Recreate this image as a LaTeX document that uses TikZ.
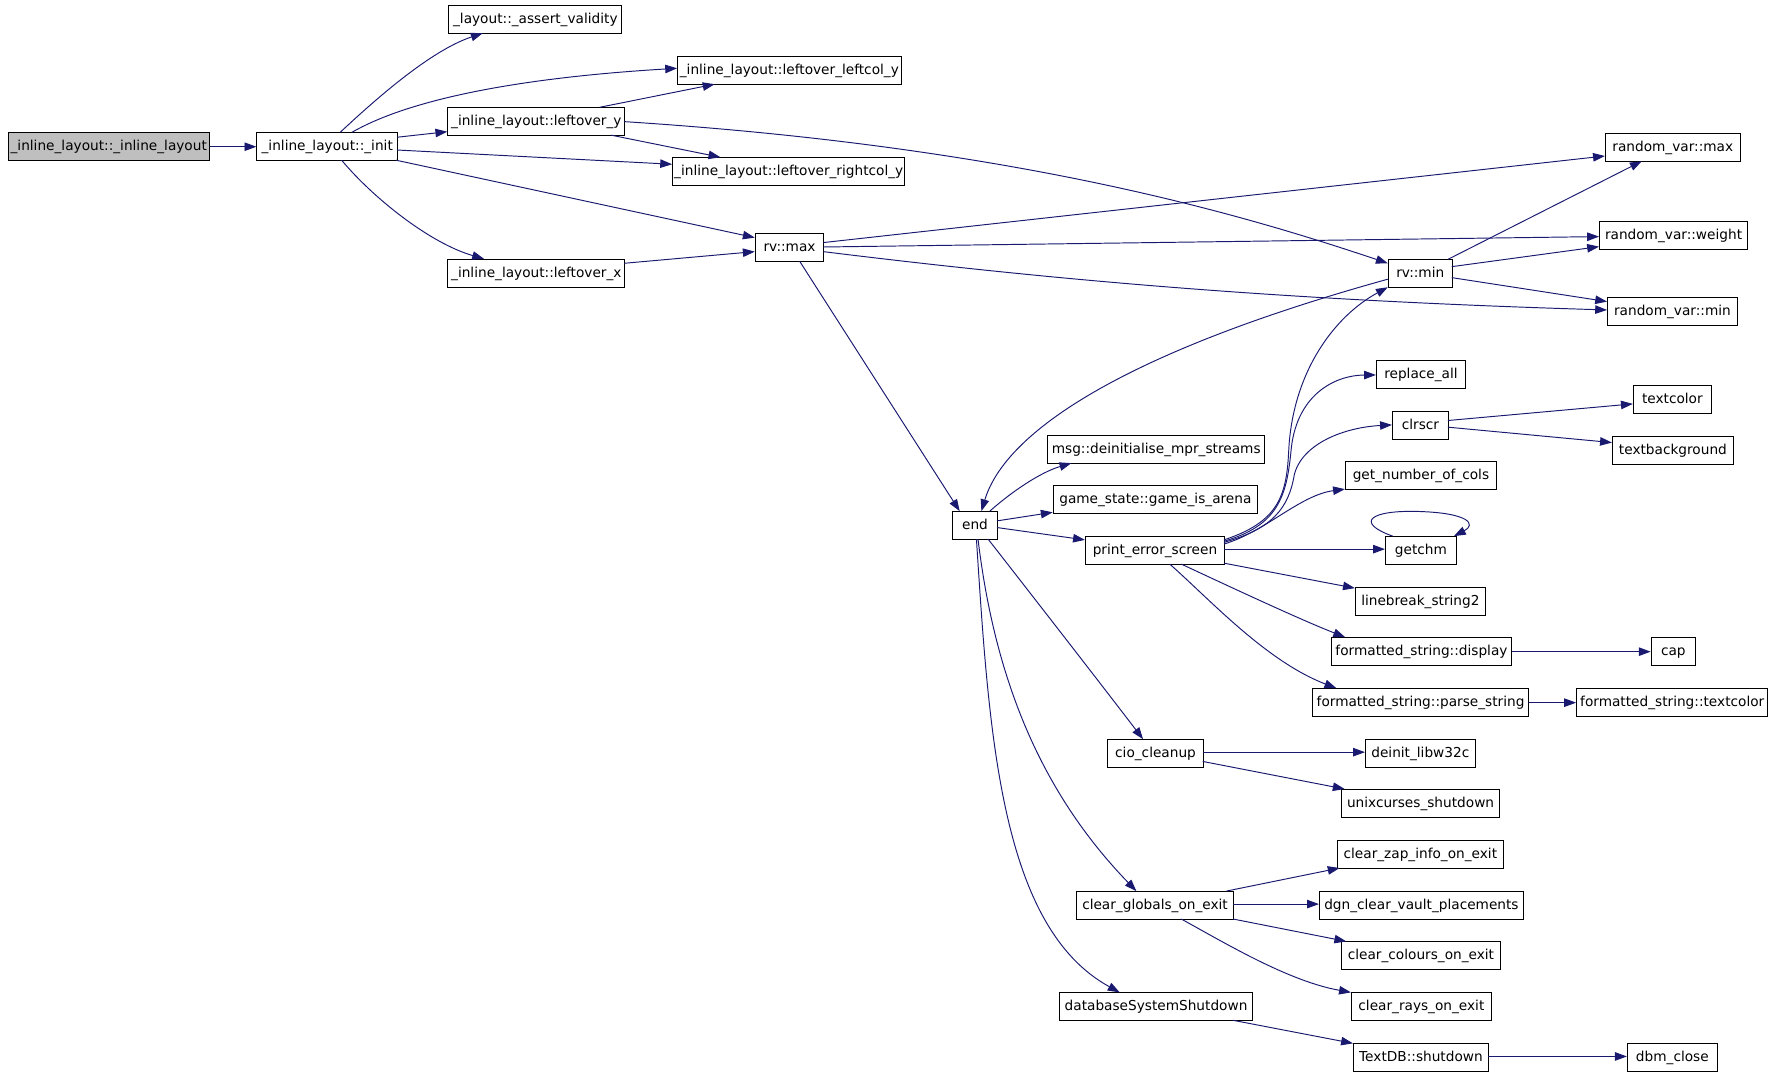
\documentclass[tikz,border=0pt]{standalone}
\usepackage{fontspec}
\setmainfont{DejaVu Sans}
\usetikzlibrary{arrows.meta}
\definecolor{edgeblue}{RGB}{25,25,112}
\definecolor{rootgray}{RGB}{191,191,191}
\newcommand\lbl[1]{\makebox[0pt]{#1}}
\begin{document}
\begin{tikzpicture}[x=1pt,y=-1pt,
  fn/.style={draw=black,line width=0.9pt,anchor=north west,inner sep=0pt,
    minimum height=24.7pt,text height=9.7pt,text depth=3pt,
    font=\fontsize{12.1}{14}\selectfont},
  call/.style={draw=edgeblue,line width=0.85pt,-{Triangle[length=10.5pt,width=7.5pt]},fill=none}]
\useasboundingbox (0,0) rectangle (1568.5,951);
% nodes
\node[fn,fill=rootgray,minimum width=177.5pt] (A) at (7,117) {\lbl{\_inline\_layout::\_inline\_layout}};
\node[fn,minimum width=124.5pt] (init) at (226.8,117) {\lbl{\_inline\_layout::\_init}};
\node[fn,minimum width=152.9pt] (assert) at (396.7,4.7) {\lbl{\_layout::\_assert\_validity}};
\node[fn,minimum width=156.6pt] (lefty) at (395.7,94.9) {\lbl{\_inline\_layout::leftover\_y}};
\node[fn,minimum width=156.6pt] (leftx) at (395.7,229) {\lbl{\_inline\_layout::leftover\_x}};
\node[fn,minimum width=197.7pt] (leftcol) at (599,49.8) {\lbl{\_inline\_layout::leftover\_leftcol\_y}};
\node[fn,minimum width=205.4pt] (rightcol) at (594.6,139.1) {\lbl{\_inline\_layout::leftover\_rightcol\_y}};
\node[fn,minimum width=60.6pt] (rvmax) at (667.7,206.4) {\lbl{rv::max}};
\node[fn,minimum width=119.2pt] (rmax) at (1419.8,117.9) {\lbl{random\_var::max}};
\node[fn,minimum width=130.9pt] (rweight) at (1414.6,195.7) {\lbl{random\_var::weight}};
\node[fn,minimum width=114.8pt] (rmin) at (1421.7,263) {\lbl{random\_var::min}};
\node[fn,minimum width=56.6pt] (rvmin) at (1227.7,229.4) {\lbl{rv::min}};
\node[fn,minimum width=39.8pt] (end) at (842.2,452.2) {\lbl{end}};
\node[fn,minimum width=192.2pt] (msg) at (926.3,385) {\lbl{msg::deinitialise\_mpr\_streams}};
\node[fn,minimum width=180.7pt] (arena) at (931.3,429.2) {\lbl{game\_state::game\_is\_arena}};
\node[fn,minimum width=123pt] (pes) at (959.8,474.3) {\lbl{print\_error\_screen}};
\node[fn,minimum width=78.8pt] (replace) at (1217.2,318.7) {\lbl{replace\_all}};
\node[fn,minimum width=49.5pt] (clrscr) at (1231.4,363.8) {\lbl{clrscr}};
\node[fn,minimum width=69pt] (textcolor) at (1444.5,340.8) {\lbl{textcolor}};
\node[fn,minimum width=107pt] (textbg) at (1426,385.9) {\lbl{textbackground}};
\node[fn,minimum width=133.6pt] (getcols) at (1189.8,408) {\lbl{get\_number\_of\_cols}};
\node[fn,minimum width=62.8pt] (getchm) at (1225.2,474.3) {\lbl{getchm}};
\node[fn,minimum width=115pt] (linebreak) at (1198.6,519.4) {\lbl{linebreak\_string2}};
\node[fn,minimum width=159.5pt] (display) at (1177.3,563.7) {\lbl{formatted\_string::display}};
\node[fn,minimum width=39.2pt] (cap) at (1460.3,563.7) {\lbl{cap}};
\node[fn,minimum width=191.3pt] (parse) at (1160.6,608.8) {\lbl{formatted\_string::parse\_string}};
\node[fn,minimum width=169.2pt] (fstc) at (1394.3,608.8) {\lbl{formatted\_string::textcolor}};
\node[fn,minimum width=84.4pt] (cio) at (979.6,653.9) {\lbl{cio\_cleanup}};
\node[fn,minimum width=97.1pt] (deinit) at (1207.5,653.9) {\lbl{deinit\_libw32c}};
\node[fn,minimum width=139.9pt] (unix) at (1186.3,698) {\lbl{unixcurses\_shutdown}};
\node[fn,minimum width=138.9pt] (cglob) at (951.9,788.3) {\lbl{clear\_globals\_on\_exit}};
\node[fn,minimum width=146.8pt] (zap) at (1182.7,743.2) {\lbl{clear\_zap\_info\_on\_exit}};
\node[fn,minimum width=180.4pt] (dgn) at (1166.8,788.3) {\lbl{dgn\_clear\_vault\_placements}};
\node[fn,minimum width=140.6pt] (colours) at (1186.3,832.8) {\lbl{clear\_colours\_on\_exit}};
\node[fn,minimum width=123.8pt] (rays) at (1195.1,877.9) {\lbl{clear\_rays\_on\_exit}};
\node[fn,minimum width=170.7pt] (dbss) at (936.9,877.9) {\lbl{databaseSystemShutdown}};
\node[fn,minimum width=119.4pt] (textdb) at (1196.9,923) {\lbl{TextDB::shutdown}};
\node[fn,minimum width=79.6pt] (dbm) at (1439.2,923) {\lbl{dbm\_close}};
% edges
\draw[call] (A.east) -- (init.west);
\draw[call] ([shift={(74.2,0)}]init.north west) .. controls (330,90) and (380,45) .. ([shift={(30.3,24.7)}]assert.north west);
\draw[call] ([shift={(84.6,0)}]init.north west) .. controls (355,92) and (440,70) .. ([shift={(0,10.6)}]leftcol.north west);
\draw[call] ([shift={(124.5,4.4)}]init.north west) -- ([shift={(0,21.6)}]lefty.north west);
\draw[call] ([shift={(124.5,15.7)}]init.north west) -- ([shift={(0,6.2)}]rightcol.north west);
\draw[call] ([shift={(123.5,24.7)}]init.north west) -- ([shift={(0,3.8)}]rvmax.north west);
\draw[call] ([shift={(75.4,24.7)}]init.north west) .. controls (330,175) and (380,215) .. ([shift={(32.5,0)}]leftx.north west);
\draw[call] ([shift={(134.9,0)}]lefty.north west) -- ([shift={(33.2,24.7)}]leftcol.north west);
\draw[call] ([shift={(145.1,24.7)}]lefty.north west) -- ([shift={(42.7,0)}]rightcol.north west);
\draw[call] ([shift={(156.6,12.7)}]lefty.north west) .. controls (900,130) and (1100,190) .. ([shift={(0,3.5)}]rvmin.north west);
\draw[call] ([shift={(156.6,3.9)}]leftx.north west) -- ([shift={(0,16.2)}]rvmax.north west);
\draw[call] ([shift={(60.6,8.2)}]rvmax.north west) -- ([shift={(0,20.1)}]rmax.north west);
\draw[call] ([shift={(60.6,12.1)}]rvmax.north west) -- ([shift={(0,13.6)}]rweight.north west);
\draw[call] ([shift={(60.6,16.2)}]rvmax.north west) .. controls (950,250) and (1150,266) .. ([shift={(0,11.2)}]rmin.north west);
\draw[call] ([shift={(39.7,24.7)}]rvmax.north west) -- ([shift={(6.8,0)}]end.north west);
\draw[call] ([shift={(53.3,0)}]rvmin.north west) -- ([shift={(32.6,24.7)}]rmax.north west);
\draw[call] ([shift={(56.6,6.5)}]rvmin.north west) -- ([shift={(0,22.5)}]rweight.north west);
\draw[call] ([shift={(56.6,16.2)}]rvmin.north west) -- ([shift={(0,3.8)}]rmin.north west);
\draw[call] ([shift={(0,17.6)}]rvmin.north west) .. controls (1000,310) and (890,380) .. ([shift={(26,0)}]end.north west);
\draw[call] ([shift={(123,3.3)}]pes.north west) .. controls (1130,462) and (1138,440) .. (1140,400) .. controls (1143,330) and (1180,280) .. ([shift={(0,24.7)}]rvmin.north west);
\draw[call] ([shift={(123,4.5)}]pes.north west) .. controls (1130,465) and (1138,440) .. (1142,400) .. controls (1146,350) and (1180,332) .. ([shift={(0,13)}]replace.north west);
\draw[call] ([shift={(123,5.5)}]pes.north west) .. controls (1125,468) and (1140,450) .. (1145,420) .. controls (1152,392) and (1190,378) .. ([shift={(0,12.1)}]clrscr.north west);
\draw[call] ([shift={(123,7)}]pes.north west) .. controls (1120,470) and (1150,438) .. ([shift={(0,24.7)}]getcols.north west);
\draw[call] ([shift={(123,11.5)}]pes.north west) -- ([shift={(0,11.5)}]getchm.north west);
\draw[call] ([shift={(123,23.9)}]pes.north west) -- ([shift={(0,0.9)}]linebreak.north west);
\draw[call] ([shift={(85.2,24.7)}]pes.north west) .. controls (1090,520) and (1150,548) .. ([shift={(12.7,0)}]display.north west);
\draw[call] ([shift={(75,24.7)}]pes.north west) .. controls (1070,530) and (1120,585) .. ([shift={(21.6,0)}]parse.north west);
\draw[call] ([shift={(49.5,8.2)}]clrscr.north west) -- ([shift={(0,16.5)}]textcolor.north west);
\draw[call] ([shift={(49.5,14.1)}]clrscr.north west) -- ([shift={(0,5.6)}]textbg.north west);
\draw[call] ([shift={(6.8,0)}]getchm.north west) .. controls (1198,462) and (1212,451) .. (1256,452.5) .. controls (1300,454) and (1306,464) .. ([shift={(61,0)}]getchm.north west);
\draw[call] (display.east) -- (cap.west);
\draw[call] (parse.east) -- (fstc.west);
\draw[call] ([shift={(33.4,0)}]end.north west) .. controls (895,435) and (920,418) .. ([shift={(21.5,24.7)}]msg.north west);
\draw[call] ([shift={(39.8,8.6)}]end.north west) -- ([shift={(0,24)}]arena.north west);
\draw[call] ([shift={(39.8,14.5)}]end.north west) -- ([shift={(0,3.3)}]pes.north west);
\draw[call] ([shift={(31.9,24.7)}]end.north west) .. controls (900,510) and (970,600) .. ([shift={(31.6,0)}]cio.north west);
\draw[call] ([shift={(23,24.7)}]end.north west) .. controls (880,600) and (920,700) .. ([shift={(53.4,0)}]cglob.north west);
\draw[call] ([shift={(21.6,24.7)}]end.north west) .. controls (875,650) and (885,820) .. ([shift={(53.6,0)}]dbss.north west);
\draw[call] ([shift={(84.4,11.5)}]cio.north west) -- ([shift={(0,11.5)}]deinit.north west);
\draw[call] ([shift={(84.4,19.7)}]cio.north west) -- ([shift={(3.3,0)}]unix.north west);
\draw[call] ([shift={(133,0)}]cglob.north west) -- ([shift={(2.4,24.7)}]zap.north west);
\draw[call] ([shift={(138.9,11.5)}]cglob.north west) -- ([shift={(0,11.5)}]dgn.north west);
\draw[call] ([shift={(138.9,24.7)}]cglob.north west) -- ([shift={(4.7,0)}]colours.north west);
\draw[call] ([shift={(93.1,24.7)}]cglob.north west) .. controls (1085,835) and (1140,868) .. (rays.north west);
\draw[call] ([shift={(153.9,24.7)}]dbss.north west) -- (textdb.north west);
\draw[call] ([shift={(119.4,11.6)}]textdb.north west) -- ([shift={(0,11.6)}]dbm.north west);
\end{tikzpicture}
\end{document}
